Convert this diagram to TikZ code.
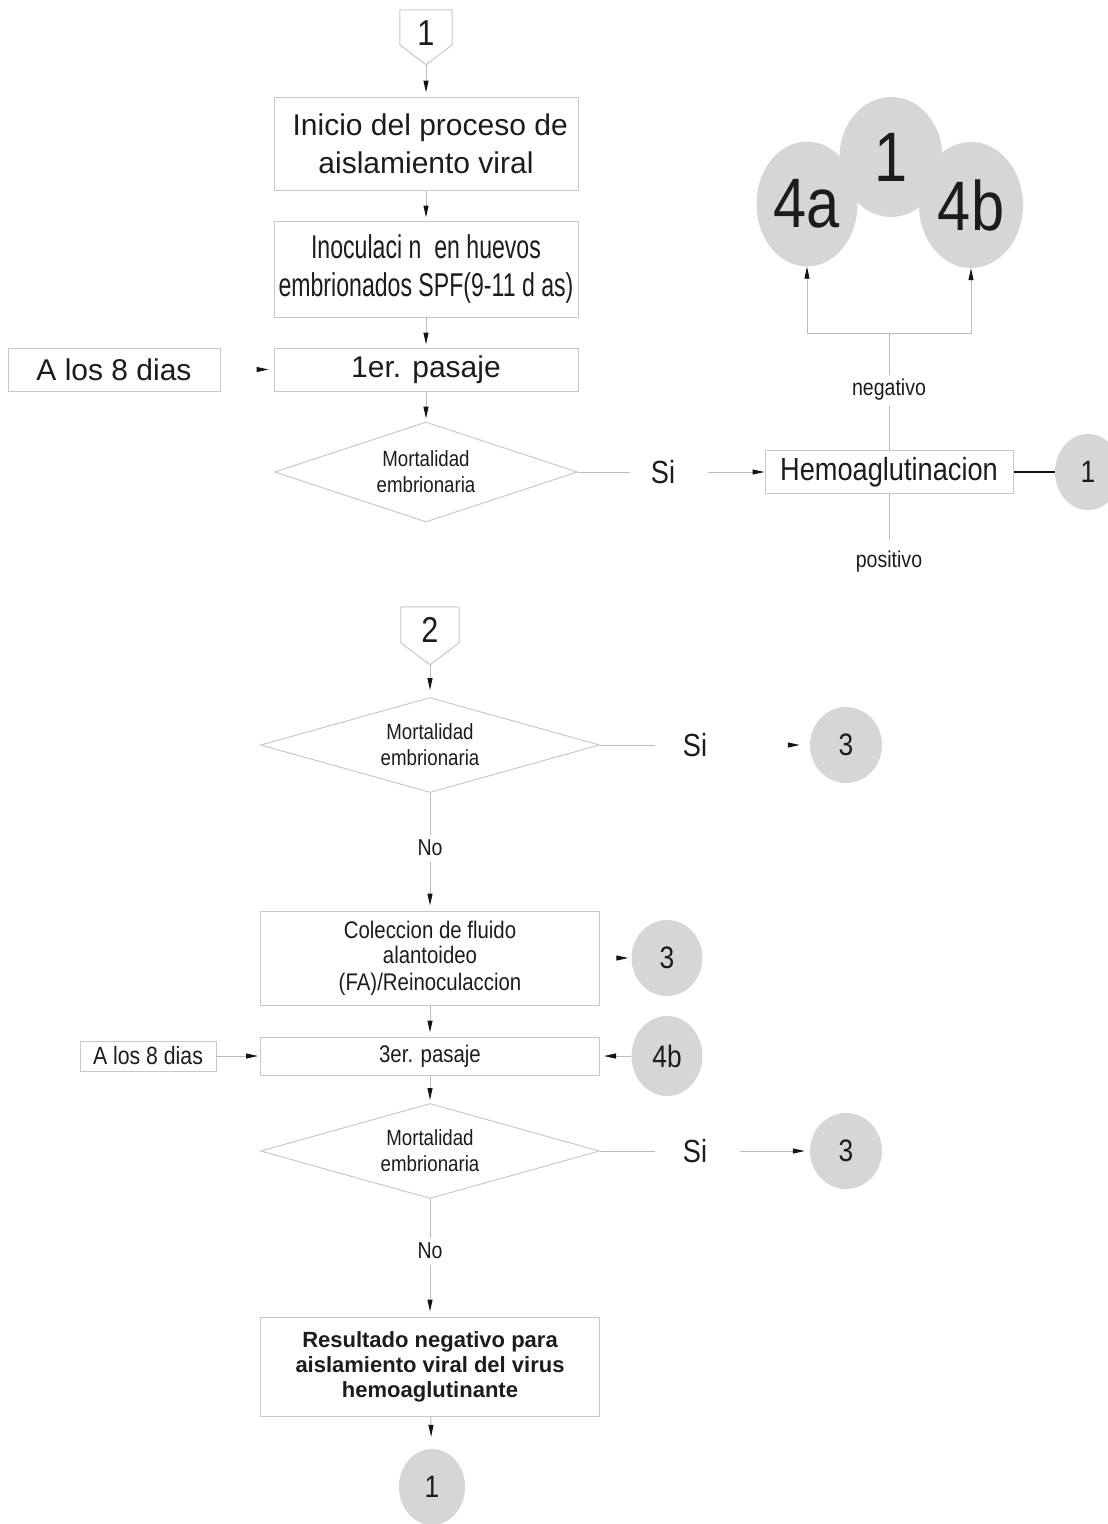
\documentclass[tikz,border=0pt]{standalone}
\usepackage{fontspec}
\setmainfont{Liberation Sans}
\newfontfamily\nf[FakeStretch=0.85]{Liberation Sans}
\newfontfamily\xnf[FakeStretch=0.7]{Liberation Sans}
\usetikzlibrary{shapes.geometric,arrows.meta,calc}
\definecolor{lc}{RGB}{188,188,188}
\definecolor{bc}{RGB}{200,200,200}
\definecolor{cf}{RGB}{213,214,215}
\definecolor{tx}{RGB}{28,28,28}
\definecolor{tipc}{RGB}{20,20,20}
\newcommand\myfs[2]{\fontsize{#1}{#2}\selectfont}
\begin{document}
\begin{tikzpicture}[x=1pt,y=-1pt,
 box/.style={draw=bc,line width=1pt,rectangle,inner sep=0pt,align=center,text=tx},
 dia/.style={draw=bc,line width=1pt,diamond,aspect=3,inner sep=0pt,align=center,text=tx,minimum width=339pt,minimum height=95pt,font=\nf\myfs{22}{26}},
 circ/.style={ellipse,fill=cf,inner sep=0pt,text=tx},
 lbl/.style={inner sep=0pt,text=tx},
 ln/.style={draw=lc,line width=1pt},
 arr/.style={ln,-{Triangle[length=12pt,width=5pt,color=tipc]}},
 harr/.style={draw=white,line width=1pt,-{Triangle[length=12pt,width=5pt,color=tipc]}},
 pent/.style={draw=bc,line width=1pt}
]
\useasboundingbox (0,0) rectangle (1108,1524);

% ---------- upper part ----------
\node[lbl,minimum width=52pt,minimum height=46pt,font=\nf\myfs{36}{40}] (p1) at (426,33) {1};
\coordinate (p1tip) at ($(p1.north)+(0,55)$);
\draw[pent] (p1.north west) -- (p1.north east) -- ($(p1.north east)+(0,35)$) -- (p1tip) -- ($(p1.north west)+(0,35)$) -- cycle;

\node[box,minimum width=304pt,minimum height=93pt,font=\myfs{30}{38}] (b1) at (426,143.5)
  {\ Inicio del proceso de\\aislamiento viral};
\node[box,minimum width=304pt,minimum height=96pt,font=\xnf\myfs{33}{38}] (b2) at (426,269)
  {Inoculaci\ n\ \ en huevos\\embrionados SPF(9-11 d\ as)};
\node[box,minimum width=304pt,minimum height=43pt,font=\myfs{30}{36}] (b3) at (426,369.5)
  {1er. pasaje};
\node[box,minimum width=212pt,minimum height=43pt,font=\myfs{30}{36}] (a8) at (114,369.5)
  {A los 8 dias};
\node[dia,minimum width=303pt,minimum height=100pt] (d1) at (426,472)
  {Mortalidad\\embrionaria};
\node[lbl,font=\nf\myfs{32}{36}] (si1) at (663,472) {Si};
\node[box,minimum width=248pt,minimum height=43pt,font=\nf\myfs{32}{36}] (hem) at (889,472)
  {Hemoaglutinacion};
\node[circ,minimum width=66pt,minimum height=76pt,font=\nf\myfs{31}{36}] (c1r) at (1088,472) {1};
\node[lbl,font=\nf\myfs{23}{26}] (neg) at (889,390) {negativo};
\node[lbl,font=\nf\myfs{23}{26}] (pos) at (889,562) {positivo};
\node[circ,minimum width=101pt,minimum height=125pt,font=\nf\myfs{70}{76}] (e4a) at (807,204) {4a};
\node[circ,minimum width=104pt,minimum height=126pt,font=\nf\myfs{70}{76}] (e4b) at (971,205) {4b};
\node[circ,minimum width=103pt,minimum height=120pt,font=\nf\myfs{70}{76}] (e1) at (891,157) {1};
\coordinate (jn) at (889,333);

\draw[arr,shorten >=4pt] (p1tip) -- (b1);
\draw[arr,shorten >=3pt] (b1) -- (b2);
\draw[arr,shorten >=3pt] (b2) -- (b3);
\draw[arr,shorten >=3pt] (b3) -- (d1);
\draw[harr,shorten >=5pt] (a8) -- (b3);
\draw[ln,shorten >=21pt] (d1.east) -- (si1);
\draw[arr,shorten <=33pt] (si1) -- (hem);
\draw[draw=tipc,line width=2.5pt] (hem) -- (c1r);
\draw[ln,shorten >=5pt] (hem) -- (neg);
\draw[ln,shorten <=4pt] (neg) -- (jn);
\draw[arr] (jn) -| (e4a);
\draw[arr] (jn) -| (e4b);
\draw[ln,shorten >=11pt] (hem) -- (pos);

% ---------- lower part ----------
\node[lbl,minimum width=58pt,minimum height=46pt,font=\nf\myfs{36}{40}] (p2) at (430,630) {2};
\coordinate (p2tip) at ($(p2.north)+(0,58)$);
\draw[pent] (p2.north west) -- (p2.north east) -- ($(p2.north east)+(0,36)$) -- (p2tip) -- ($(p2.north west)+(0,36)$) -- cycle;

\node[dia] (d2) at (430,745) {Mortalidad\\embrionaria};
\node[lbl,font=\nf\myfs{32}{36}] (si2) at (695,745) {Si};
\node[circ,minimum width=72pt,minimum height=76pt,font=\nf\myfs{31}{36}] (c3a) at (846,745) {3};
\node[lbl,font=\nf\myfs{23}{26}] (no1) at (430,848) {No};
\node[box,minimum width=339pt,minimum height=94pt,font=\nf\myfs{24}{25}] (b4) at (430,958)
  {Coleccion de fluido\\alantoideo\\[2pt](FA)/Reinoculaccion};
\node[circ,minimum width=71pt,minimum height=76pt,font=\nf\myfs{31}{36}] (c3b) at (667,958) {3};
\node[box,minimum width=339pt,minimum height=38pt,font=\nf\myfs{24}{28}] (b5) at (430,1056)
  {3er. pasaje};
\node[box,minimum width=136pt,minimum height=30pt,font=\nf\myfs{25}{28}] (a8b) at (148,1056)
  {A los 8 dias};
\node[circ,minimum width=71pt,minimum height=80pt,font=\nf\myfs{31}{36}] (c4b) at (667,1056) {4b};
\node[dia] (d3) at (430,1151) {Mortalidad\\embrionaria};
\node[lbl,font=\nf\myfs{32}{36}] (si3) at (695,1151) {Si};
\node[circ,minimum width=72pt,minimum height=76pt,font=\nf\myfs{31}{36}] (c3c) at (846,1151) {3};
\node[lbl,font=\nf\myfs{23}{26}] (no2) at (430,1251) {No};
\node[box,minimum width=339pt,minimum height=99pt,font=\bfseries\myfs{22}{25}] (b6) at (430,1366.5)
  {Resultado negativo para\\aislamiento viral del virus\\hemoaglutinante};
\node[circ,minimum width=66pt,minimum height=76pt,font=\nf\myfs{31}{36}] (c1b) at (432,1487) {1};

\draw[arr,shorten >=7pt] (p2tip) -- (d2);
\draw[ln,shorten >=28pt] (d2.east) -- (si2);
\draw[harr,shorten >=10pt] (si2) -- (c3a);
\draw[ln,shorten >=5pt] (d2) -- (no1);
\draw[arr,shorten <=6pt,shorten >=5pt] (no1) -- (b4);
\draw[harr,shorten >=3pt] (b4) -- (c3b);
\draw[arr,shorten >=4pt] (b4) -- (b5);
\draw[arr,shorten >=2pt] (a8b) -- (b5);
\draw[arr,shorten >=4pt] (c4b) -- (b5);
\draw[arr,shorten >=3pt] (b5) -- (d3);
\draw[ln,shorten >=28pt] (d3.east) -- (si3);
\draw[arr,shorten <=33pt,shorten >=5pt] (si3) -- (c3c);
\draw[ln,shorten >=5pt] (d3) -- (no2);
\draw[arr,shorten <=6pt,shorten >=5pt] (no2) -- (b6);
\draw[arr,shorten >=12pt] (b6) -- (c1b);
\end{tikzpicture}
\end{document}
